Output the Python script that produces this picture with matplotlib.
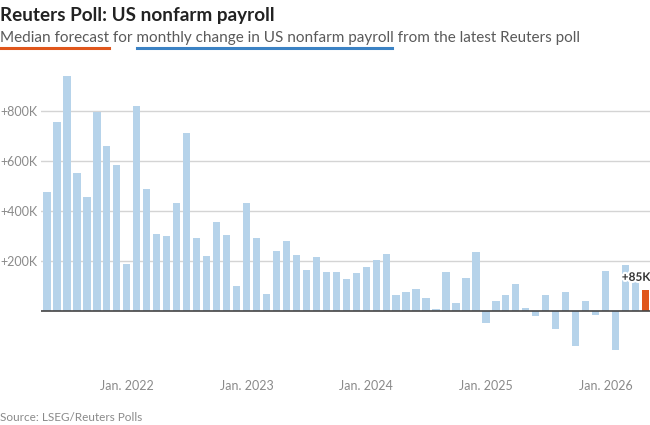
import matplotlib
matplotlib.use("Agg")
import matplotlib.pyplot as plt
import matplotlib.patheffects as pe
from matplotlib.font_manager import FontProperties
from matplotlib.textpath import TextPath
import pandas as pd

# monthly median forecasts (thousands), May 2021 .. May 2026
months = pd.date_range("2021-05-01", periods=61, freq="MS")
forecast = [
    476, 755, 941, 552, 456, 797, 659, 585, 189, 819,
    489, 308, 300, 433, 712, 291, 219, 356, 303, 100,
    433, 291, 67, 240, 280, 224, 163, 217, 155, 157,
    128, 153, 175, 205, 227, 63, 78, 87, 51, 7,
    155, 32, 132, 235, -47, 40, 66, 107, 11, -21,
    63, -71, 75, -140, 40, -16, 160, -155, 184, 115,
    85,
]
latest_label = "+85K"
y_ticks = [200, 400, 600, 800]
y_tick_labels = ["+200K", "+400K", "+600K", "+800K"]

title = "Reuters Poll: US nonfarm payroll"
subtitle_parts = [
    ("Median forecast", "#e0561b"),
    (" for ", None),
    ("monthly change in US nonfarm payroll", "#3b82c4"),
    (" from the latest Reuters poll", None),
]
source = "Source: LSEG/Reuters Polls"

BLUE = "#b6d3ea"
ORANGE = "#e0561b"
W, H = 650, 425
SUB_SIZE = 11

plt.rcParams["font.family"] = ["Lato", "DejaVu Sans"]

fig = plt.figure(figsize=(W / 100, H / 100), dpi=100)
ax = fig.add_axes([41 / W, 1 - 365 / H, 1 - 41 / W, 300 / H])

x = list(range(len(forecast)))
colors = [BLUE] * (len(forecast) - 1) + [ORANGE]
ax.bar(x, forecast, width=0.73, color=colors, zorder=2)
ax.axhline(0, color="#444444", lw=1.2, zorder=3)

ax.set_xlim(-0.6, 60.45)
ax.set_ylim(-216, 985)
ax.set_yticks(y_ticks)
ax.set_yticklabels(y_tick_labels, ha="left")
ax.yaxis.grid(True, color="#d4d4d4", lw=1, zorder=0)

jan_idx = [i for i, m in enumerate(months) if m.month == 1]
ax.set_xticks(jan_idx)
ax.set_xticklabels(["Jan. %d" % months[i].year for i in jan_idx])

ax.tick_params(axis="x", length=0, pad=11, labelsize=9, labelcolor="#8a8a8a")
ax.tick_params(axis="y", length=0, pad=29.5, labelsize=9, labelcolor="#8a8a8a")
for s in ax.spines.values():
    s.set_visible(False)

ax.annotate(latest_label, (x[-1], forecast[-1]), xytext=(3.5, 5),
            textcoords="offset points", ha="right", va="bottom",
            fontsize=8.5, fontweight="bold", color="#333333", zorder=5,
            path_effects=[pe.withStroke(linewidth=3, foreground="white")])

fig.text(0, 1 - 21 / H, title, fontsize=13.6, fontweight="bold",
         color="#222222", va="baseline", ha="left")

# subtitle as one line; underline ends from glyph outlines of the prefixes
base = 1 - 42 / H
full = "".join(p for p, _ in subtitle_parts)
fig.text(0, base, full, fontsize=SUB_SIZE, color="#5a5a5a",
         va="baseline", ha="left")

prop = FontProperties(family=["Lato", "DejaVu Sans"])
scale = 100 / 72  # points -> pixels


def ink_end(s):
    v = TextPath((0, 0), s, size=SUB_SIZE, prop=prop).vertices
    return v[:, 0].max() * scale


def ink_width(s):
    v = TextPath((0, 0), s, size=SUB_SIZE, prop=prop).vertices
    return (v[:, 0].max() - v[:, 0].min()) * scale


total = ink_end(full)
prefix = ""
for txt, col in subtitle_parts:
    if col:
        x1 = ink_end(prefix + txt.rstrip())
        x0 = x1 - ink_width(txt.strip())
        fig.add_artist(plt.Line2D([x0 / W, x1 / W], [1 - 48 / H, 1 - 48 / H],
                                  color=col, lw=2.2))
    prefix += txt

fig.text(0, 1 - 421 / H, source, fontsize=8.5, color="#8a8a8a",
         va="baseline", ha="left")

fig.savefig("out.png", dpi=100)
